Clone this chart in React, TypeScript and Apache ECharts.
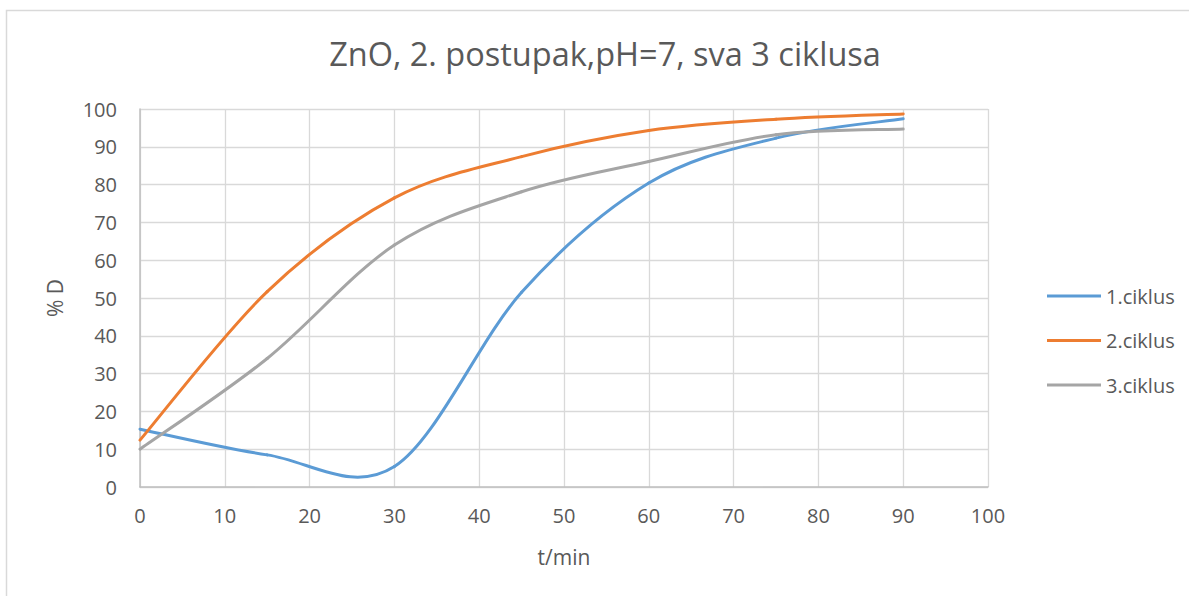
import React, { useEffect, useRef } from "react";
import * as echarts from "echarts";

const times = [0, 15, 30, 45, 60, 75, 90];
const cycle1 = [15.3, 8.5, 5.4, 51.5, 80.4, 92.3, 97.4];
const cycle2 = [12.4, 51.7, 76.5, 87.4, 94.3, 97.3, 98.7];
const cycle3 = [10, 34, 64, 78.1, 86.1, 93.2, 94.7];
const seriesNames = ["1.ciklus", "2.ciklus", "3.ciklus"];
const seriesColors = ["#5b9bd5", "#ed7d31", "#a5a5a5"];
const titleText = "ZnO, 2. postupak,pH=7, sva 3 ciklusa";
const xName = "t/min";
const yName = "% D";

const FONT = "Open Sans";

function smoothSeries(name: string, color: string, ys: number[]) {
  const n = times.length;
  const clampIdx = (k: number) => Math.max(0, Math.min(n - 1, k));
  return {
    name,
    type: "custom",
    coordinateSystem: "cartesian2d",
    data: times.map((t, j) => [t, ys[j]]),
    encode: { x: 0, y: 1 },
    itemStyle: { color },
    clip: false,
    renderItem: (params: any, api: any) => {
      const i = params.dataIndex;
      if (i >= n - 1) return { type: "group", children: [] };
      const P = (k: number) => {
        const c = clampIdx(k);
        return api.coord([times[c], ys[c]]);
      };
      const p0 = P(i - 1);
      const p1 = P(i);
      const p2 = P(i + 1);
      const p3 = P(i + 2);
      const cp1 = [p1[0] + (p2[0] - p0[0]) / 6, p1[1] + (p2[1] - p0[1]) / 6];
      const cp2 = [p2[0] - (p3[0] - p1[0]) / 6, p2[1] - (p3[1] - p1[1]) / 6];
      return {
        type: "bezierCurve",
        shape: {
          x1: p1[0],
          y1: p1[1],
          x2: p2[0],
          y2: p2[1],
          cpx1: cp1[0],
          cpy1: cp1[1],
          cpx2: cp2[0],
          cpy2: cp2[1],
        },
        style: { stroke: color, lineWidth: 3, fill: "none", lineCap: "round" },
      };
    },
  };
}

export default function App() {
  const ref = useRef<HTMLDivElement>(null);
  useEffect(() => {
    if (!ref.current) return;
    const chart = echarts.init(ref.current, undefined, { renderer: "svg" });
    const values = [cycle1, cycle2, cycle3];
    const legendTops = [281, 325.5, 370];
    chart.setOption({
      animation: false,
      backgroundColor: "#ffffff",
      title: {
        text: titleText,
        left: 600,
        top: 32,
        textAlign: "center",
        textStyle: { fontFamily: FONT, fontSize: 32.5, fontWeight: "normal", color: "#595959" },
      },
      graphic: [
        {
          type: "rect",
          shape: { x: 6.5, y: 10.5, width: 1300, height: 700 },
          style: { fill: "none", stroke: "#d9d9d9", lineWidth: 1.5 },
          silent: true,
        },
      ],
      legend: seriesNames.map((n, i) => ({
        data: [{ name: n, itemStyle: { color: seriesColors[i] } }],
        orient: "vertical",
        left: 1042,
        top: legendTops[i],
        icon: "rect",
        itemWidth: 54,
        itemHeight: 3,
        itemGap: 5,
        textStyle: { fontFamily: FONT, fontSize: 20, color: "#595959" },
      })),
      grid: { left: 140, top: 109, width: 848, height: 378, containLabel: false },
      xAxis: {
        type: "value",
        min: 0,
        max: 100,
        interval: 10,
        name: xName,
        nameLocation: "middle",
        nameGap: 59,
        nameTextStyle: { fontFamily: FONT, fontSize: 21, color: "#595959" },
        axisLine: { show: true, lineStyle: { color: "#bfbfbf", width: 1.5 } },
        axisTick: { show: false },
        axisLabel: { margin: 18, fontFamily: FONT, fontSize: 20, color: "#595959" },
        splitLine: { show: true, lineStyle: { color: "#d9d9d9", width: 1.3 } },
      },
      yAxis: {
        type: "value",
        min: 0,
        max: 100,
        interval: 10,
        name: yName,
        nameLocation: "middle",
        nameGap: 75,
        nameRotate: 90,
        nameTextStyle: { fontFamily: FONT, fontSize: 21, color: "#595959" },
        axisLine: { show: true, lineStyle: { color: "#bfbfbf", width: 1.5 } },
        axisTick: { show: false },
        axisLabel: { margin: 23, fontFamily: FONT, fontSize: 20, color: "#595959" },
        splitLine: { show: true, lineStyle: { color: "#d9d9d9", width: 1.3 } },
      },
      series: seriesNames.map((n, i) => smoothSeries(n, seriesColors[i], values[i])),
    });
    return () => chart.dispose();
  }, []);
  return (
    <div
      ref={ref}
      style={{ position: "absolute", left: 0, top: 0, width: 1189, height: 596 }}
    />
  );
}
